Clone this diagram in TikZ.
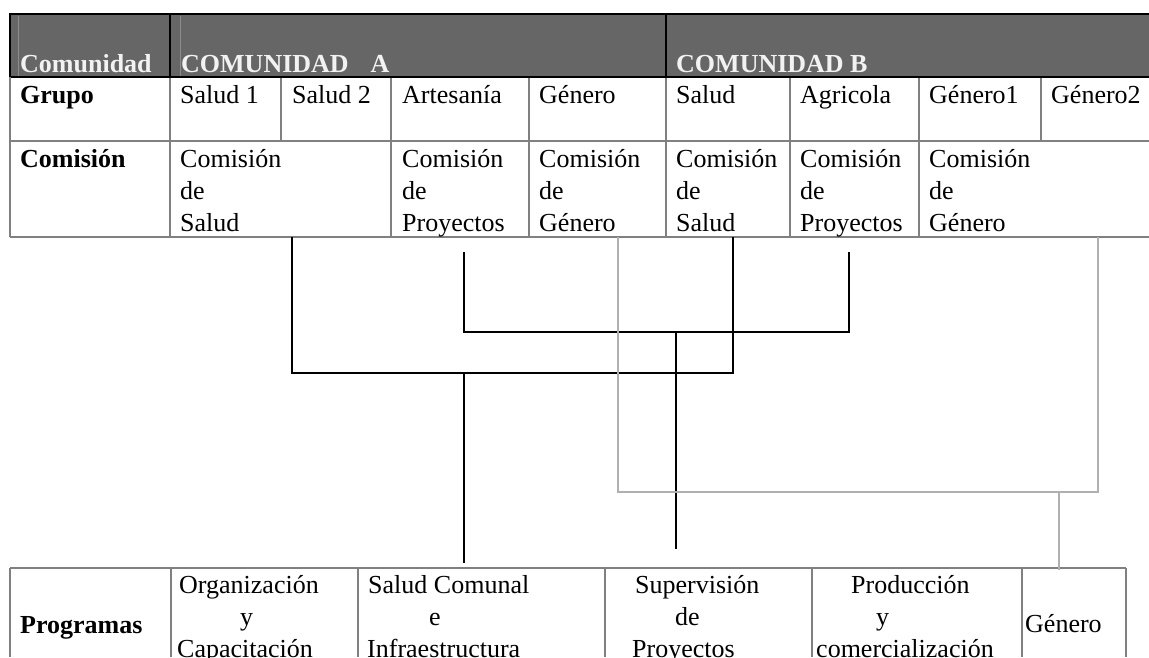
\documentclass[tikz,border=0pt]{standalone}
\usepackage{fontspec}
\setmainfont{Liberation Serif}
\definecolor{hdr}{HTML}{666666}
\definecolor{gridc}{HTML}{808080}
\definecolor{lgray}{HTML}{B0B0B0}
\definecolor{hdrtxt}{HTML}{F2F2F2}
\definecolor{hdrart}{HTML}{8C8C8C}
\newcommand{\cellstack}[1]{\vtop{\baselineskip=32pt\lineskiplimit=-100pt\halign{##\hfil\cr#1\crcr}}}
\begin{document}
\begin{tikzpicture}[x=1pt,y=-1pt,
  font=\fontsize{26}{32}\selectfont,
  gridline/.style={draw=gridc, line width=1.5pt},
  hdrline/.style={draw=black, line width=2.5pt},
  artline/.style={draw=hdrart, line width=1pt},
  conn/.style={draw=black, line width=2.5pt},
  gconn/.style={draw=lgray, line width=2.5pt},
  txt/.style={anchor=base west, inner sep=0pt},
  htxt/.style={txt, text=hdrtxt, font=\fontsize{26}{32}\selectfont\bfseries},
  btxt/.style={txt, font=\fontsize{26}{32}\selectfont\bfseries}]
\useasboundingbox (0,0) rectangle (1149,657);
\fill[white] (0,0) rectangle (1149,657);
% header band
\fill[hdr] (10,14) rectangle (1149,77);
\draw[artline] (18,16) -- (18,77);
\draw[artline] (180,16) -- (180,77);
\draw[hdrline] (10,77) -- (10,14) -- (1149,14);
\draw[hdrline] (170,14) -- (170,77);
\draw[hdrline] (666,14) -- (666,77);
\draw[draw=black, line width=2pt] (10,77) -- (1149,77);
% top table grid
\draw[gridline] (10,77) -- (10,237);
\draw[gridline] (10,141) -- (1149,141);
\draw[gridline] (10,237) -- (1149,237);
\foreach \x in {170,281,391,529,666,790,919,1041} \draw[gridline] (\x,78) -- (\x,141);
\foreach \x in {170,391,529,666,790,919} \draw[gridline] (\x,141) -- (\x,237);
% bottom table grid
\draw[gridline] (10,568) -- (1126,568);
\foreach \x in {10,171,358,605,812,1022,1126} \draw[gridline] (\x,568) -- (\x,657);
% header texts
\node[htxt] (hcom) at (20,72) {Comunidad};
\node[htxt] (hca) at (181,72) {COMUNIDAD\kern22pt A};
\node[htxt] (hcb) at (676,72) {COMUNIDAD B};
% grupo row
\node[btxt] (lgrupo) at (20,103) {Grupo};
\node[txt] (g1) at (180,103) {Salud 1};
\node[txt] (g2) at (292,103) {Salud 2};
\node[txt] (g3) at (402,103) {Artesanía};
\node[txt] (g4) at (539,103) {Género};
\node[txt] (g5) at (676,103) {Salud};
\node[txt] (g6) at (800,103) {Agricola};
\node[txt] (g7) at (929,103) {Género1};
\node[txt] (g8) at (1051,103) {Género2};
% comision row
\node[btxt] (lcom) at (20,167) {Comisión};
\node[txt] (c1) at (180,167) {\cellstack{Comisión\cr de\cr Salud}};
\node[txt] (c2) at (402,167) {\cellstack{Comisión\cr de\cr Proyectos}};
\node[txt] (c3) at (539,167) {\cellstack{Comisión\cr de\cr Género}};
\node[txt] (c4) at (676,167) {\cellstack{Comisión\cr de\cr Salud}};
\node[txt] (c5) at (800,167) {\cellstack{Comisión\cr de\cr Proyectos}};
\node[txt] (c6) at (929,167) {\cellstack{Comisión\cr de\cr Género}};
% programas row
\node[btxt] (lprog) at (20,633) {Programas};
\node[txt] (p1) at (177,593) {\cellstack{\kern2pt Organización\cr \kern63pt y\cr Capacitación}};
\node[txt] (p2) at (367,593) {\cellstack{\kern1pt Salud Comunal\cr \kern62pt e\cr Infraestructura}};
\node[txt] (p3) at (632,593) {\cellstack{\kern3pt Supervisión\cr \kern43pt de\cr Proyectos}};
\node[txt] (p4) at (816,593) {\cellstack{\kern35pt Producción\cr \kern60pt y\cr comercialización}};
\node[txt] (p5) at (1025,632) {Género};
% connector points
\coordinate (sA) at (292,237);
\coordinate (sB) at (733,237);
\coordinate (sAb) at (292,373);
\coordinate (sBb) at (733,373);
\coordinate (sM) at (464,373);
\coordinate (sEnd) at (464,563);
\coordinate (pA) at (464,252);
\coordinate (pB) at (849,252);
\coordinate (pAb) at (464,332);
\coordinate (pBb) at (849,332);
\coordinate (pM) at (676,332);
\coordinate (pEnd) at (676,549);
\coordinate (gA) at (618,237);
\coordinate (gB) at (1098,237);
\coordinate (gAb) at (618,492);
\coordinate (gBb) at (1098,492);
\coordinate (gM) at (1059,492);
\coordinate (gEnd) at (1059,570);
% salud connectors
\draw[conn] (sA) -- (sAb) -- (sBb) -- (sB);
\draw[conn] (sM) -- (sEnd);
% proyectos connectors
\draw[conn] (pA) -- (pAb) -- (pBb) -- (pB);
\draw[conn] (pM) -- (pEnd);
% genero connectors
\draw[gconn] (gA) -- (gAb) -- (gBb) -- (gB);
\draw[gconn] (gM) -- (gEnd);
\end{tikzpicture}
\end{document}
